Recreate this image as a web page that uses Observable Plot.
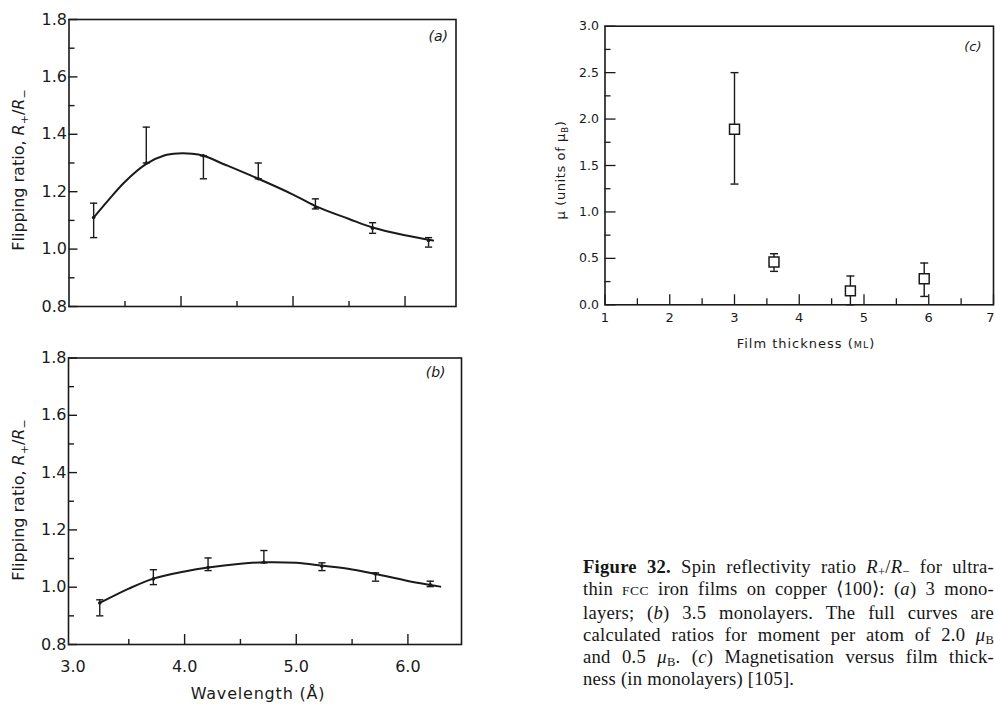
<!DOCTYPE html>
<html>
<head>
<meta charset="utf-8">
<script src="https://cdn.jsdelivr.net/npm/d3@7"></script>
<script src="https://cdn.jsdelivr.net/npm/@observablehq/plot@0.6"></script>
<style>
  html, body { margin: 0; padding: 0; background: #fff; }
  body { width: 995px; height: 704px; overflow: hidden; position: relative; }
  .panel { position: absolute; }
  .panel svg { overflow: visible; }
  .caption {
    position: absolute; left: 583px; top: 556px; width: 411px;
    font-family: "Liberation Serif", "Times New Roman", serif;
    font-size: 18.6px; line-height: 22px; color: #161616; letter-spacing: 0.25px;
  }
  .caption .ln { white-space: nowrap; }
  .caption i { font-style: italic; }
  .caption .sc { font-size: 13.5px; letter-spacing: 0.4px; }
  .caption sub { font-size: 12.5px; vertical-align: -3px; line-height: 0; }
</style>
</head>
<body>
<div id="pa" class="panel" style="left:0;top:0"></div>
<div id="pb" class="panel" style="left:0;top:330px"></div>
<div id="pc" class="panel" style="left:530px;top:0"></div>
<div class="caption">
  <div class="ln"><b>Figure 32.</b> Spin reflectivity ratio <i>R</i><sub>+</sub>/<i>R</i><sub>−</sub> for ultra-</div>
  <div class="ln">thin <span class="sc">FCC</span> iron films on copper ⟨100⟩: (<i>a</i>) 3 mono-</div>
  <div class="ln">layers; (<i>b</i>) 3.5 monolayers. The full curves are</div>
  <div class="ln">calculated ratios for moment per atom of 2.0 <i>μ</i><sub>B</sub></div>
  <div class="ln">and 0.5 <i>μ</i><sub>B</sub>. (<i>c</i>) Magnetisation versus film thick-</div>
  <div class="ln last">ness (in monolayers) [105].</div>
</div>
<script>
// ---- Panel (a): 3 monolayers ----
const wavelengthA = [3.22, 3.69, 4.20, 4.69, 5.20, 5.71, 6.21];
const ratioA      = [1.11, 1.30, 1.325, 1.245, 1.145, 1.073, 1.03];
const ratioALow   = [1.04, 1.30, 1.245, 1.245, 1.14, 1.055, 1.007];
const ratioAHigh  = [1.16, 1.425, 1.325, 1.30, 1.175, 1.092, 1.04];
const curveAX = [3.22, 3.35, 3.5, 3.69, 3.85, 3.97, 4.1, 4.2, 4.4, 4.69, 5.0, 5.2, 5.5, 5.71, 6.0, 6.25];
const curveAY = [1.11, 1.17, 1.235, 1.297, 1.326, 1.333, 1.332, 1.325, 1.293, 1.245, 1.19, 1.15, 1.105, 1.075, 1.048, 1.03];

// ---- Panel (b): 3.5 monolayers ----
const wavelengthB = [3.24, 3.72, 4.21, 4.71, 5.23, 5.71, 6.20];
const ratioB      = [0.945, 1.029, 1.069, 1.087, 1.073, 1.046, 1.008];
const ratioBLow   = [0.90, 1.009, 1.058, 1.085, 1.058, 1.021, 1.002];
const ratioBHigh  = [0.956, 1.061, 1.102, 1.128, 1.085, 1.05, 1.021];
const curveBX = [3.24, 3.5, 3.72, 4.0, 4.21, 4.5, 4.71, 5.0, 5.23, 5.5, 5.71, 6.0, 6.2, 6.29];
const curveBY = [0.945, 0.995, 1.03, 1.055, 1.069, 1.082, 1.087, 1.085, 1.075, 1.062, 1.046, 1.022, 1.008, 1.002];

// ---- Panel (c): moment versus film thickness ----
const thickness  = [3.0, 3.61, 4.79, 5.93];
const moment     = [1.89, 0.46, 0.15, 0.28];
const momentLow  = [1.30, 0.36, 0.0, 0.09];
const momentHigh = [2.50, 0.55, 0.31, 0.45];

// ---- Tick values ----
const ratioMajor = [0.8, 1.0, 1.2, 1.4, 1.6, 1.8];
const ratioMinor = [0.9, 1.1, 1.3, 1.5, 1.7];
const waveMajor  = [3.0, 4.0, 5.0, 6.0];
const waveMinor  = [3.5, 4.5, 5.5];
const thickMajor = [1, 2, 3, 4, 5, 6, 7];
const thickMinor = [1.5, 2.5, 3.5, 4.5, 5.5, 6.5];
const muMajor    = [0, 0.5, 1.0, 1.5, 2.0, 2.5, 3.0];
const muMinor    = [0.25, 0.75, 1.25, 1.75, 2.25, 2.75];

const ink = "#1a1a1a";
const sans = "'DejaVu Sans', 'Liberation Sans', sans-serif";
const fmt1 = d3.format(".1f");

// horizontal cap for error bars, half-width derived from the dot radius
const capSymbol = {
  draw(context, size) {
    const r = Math.sqrt(size / Math.PI);
    context.moveTo(-r, 0);
    context.lineTo(r, 0);
  }
};

function rows(xs, ys, lo, hi) {
  return xs.map((x, i) => ({x, y: ys[i], lo: lo ? lo[i] : null, hi: hi ? hi[i] : null}));
}

function errorMarks(data, capR) {
  return [
    Plot.ruleX(data, {x: "x", y1: "lo", y2: "hi", stroke: ink, strokeWidth: 1.4}),
    Plot.dot(data, {x: "x", y: "lo", r: capR, symbol: capSymbol, fill: "none", stroke: ink, strokeWidth: 1.4}),
    Plot.dot(data, {x: "x", y: "hi", r: capR, symbol: capSymbol, fill: "none", stroke: ink, strokeWidth: 1.4})
  ];
}

function ratioPanel({points, curve, xDomain, height, margins, tag, tagDx, tagDy, showX}) {
  return Plot.plot({
    width: 470, height,
    ...margins,
    x: {domain: xDomain},
    y: {domain: [0.8, 1.8]},
    style: {fontFamily: sans, color: ink, background: "transparent", overflow: "visible"},
    marks: [
      Plot.axisY(ratioMajor, {anchor: "left", tickSize: -9, fill: "none", label: null, stroke: ink, strokeWidth: 1.4}),
      Plot.axisY(ratioMinor, {anchor: "left", tickSize: -6, fill: "none", label: null, stroke: ink, strokeWidth: 1.4}),
      Plot.axisY(ratioMajor, {anchor: "left", tickSize: 0, tickPadding: 2, tickFormat: fmt1, label: null, fontSize: 16, letterSpacing: "1.5px"}),
      Plot.axisX(waveMajor.slice(1), {anchor: "bottom", tickSize: -10, fill: "none", label: null, stroke: ink, strokeWidth: 1.4}),
      Plot.axisX(waveMinor, {anchor: "bottom", tickSize: -5, fill: "none", label: null, stroke: ink, strokeWidth: 1.4}),
      showX ? Plot.axisX(waveMajor, {anchor: "bottom", tickSize: 0, tickPadding: 16, tickFormat: fmt1, label: null, fontSize: 16, letterSpacing: "1.5px"}) : null,
      Plot.frame({stroke: ink, strokeWidth: 1.6}),
      Plot.line(curve, {x: "x", y: "y", curve: "catmull-rom", stroke: ink, strokeWidth: 2}),
      ...errorMarks(points, 3.6),
      Plot.dot(points, {x: "x", y: "y", r: 1.8, fill: ink}),
      Plot.text([tag], {frameAnchor: "top-right", lineAnchor: "top", dx: tagDx, dy: tagDy, fontSize: 14, fontStyle: "italic", fill: ink, letterSpacing: "1px"})
    ]
  });
}

// rotated y-axis title with italic R and +/− subscripts
function ratioTitle(svg, cx, cy) {
  const t = d3.select(svg).append("text")
    .attr("transform", `translate(${cx},${cy}) rotate(-90)`)
    .attr("text-anchor", "middle")
    .attr("dy", "0.35em")
    .attr("font-family", sans)
    .attr("font-size", 16)
    .attr("fill", ink);
  t.append("tspan").text("Flipping ratio, ");
  t.append("tspan").attr("font-style", "italic").text("R");
  t.append("tspan").attr("font-size", 11).attr("dy", 4).text("+");
  t.append("tspan").attr("dy", -4).text("/");
  t.append("tspan").attr("font-style", "italic").text("R");
  t.append("tspan").attr("font-size", 11).attr("dy", 4).text("−");
}

// (a)
const svgA = ratioPanel({
  points: rows(wavelengthA, ratioA, ratioALow, ratioAHigh),
  curve: rows(curveAX, curveAY),
  xDomain: [3.0, 6.455],
  height: 330,
  margins: {marginLeft: 68.5, marginRight: 14.5, marginTop: 19, marginBottom: 24},
  tag: "(a)", tagDx: -8, tagDy: 12, showX: false
});
ratioTitle(svgA, 18, 170);
document.getElementById("pa").appendChild(svgA);

// (b)
const svgB = ratioPanel({
  points: rows(wavelengthB, ratioB, ratioBLow, ratioBHigh),
  curve: rows(curveBX, curveBY),
  xDomain: [2.96, 6.48],
  height: 374,
  margins: {marginLeft: 68, marginRight: 9, marginTop: 27.5, marginBottom: 60},
  tag: "(b)", tagDx: -16, tagDy: 9, showX: true
});
ratioTitle(svgB, 18, 170);
d3.select(svgB).append("text")
  .attr("x", 258).attr("y", 369)
  .attr("text-anchor", "middle")
  .attr("font-family", sans).attr("font-size", 16).attr("letter-spacing", "0.8px")
  .attr("fill", ink)
  .text("Wavelength (Å)");
document.getElementById("pb").appendChild(svgB);

// (c)
const dataC = rows(thickness, moment, momentLow, momentHigh);
const svgC = Plot.plot({
  width: 465, height: 360,
  marginLeft: 74.5, marginRight: 2, marginTop: 25.7, marginBottom: 55.7,
  x: {domain: [1, 7]},
  y: {domain: [0, 3]},
  style: {fontFamily: sans, color: ink, background: "transparent", overflow: "visible"},
  marks: [
    Plot.axisY(muMajor, {anchor: "left", tickSize: -11, fill: "none", label: null, stroke: ink, strokeWidth: 1.3}),
    Plot.axisY(muMinor, {anchor: "left", tickSize: -6, fill: "none", label: null, stroke: ink, strokeWidth: 1.3}),
    Plot.axisY(muMajor, {anchor: "left", tickSize: 0, tickPadding: 6, tickFormat: fmt1, label: null, fontSize: 12.5, letterSpacing: "1.5px"}),
    Plot.axisX(thickMajor, {anchor: "bottom", tickSize: -10, fill: "none", label: null, stroke: ink, strokeWidth: 1.3}),
    Plot.axisX(thickMinor, {anchor: "bottom", tickSize: -6, fill: "none", label: null, stroke: ink, strokeWidth: 1.3}),
    Plot.axisX(thickMajor.slice(0, -1), {anchor: "bottom", tickSize: 0, tickPadding: 8, tickFormat: d3.format("d"), label: null, fontSize: 13}),
    // the last label sits against the page edge, so nudge it inward
    Plot.axisX(thickMajor.slice(-1), {anchor: "bottom", tickSize: 0, tickPadding: 8, tickFormat: d3.format("d"), label: null, fontSize: 13, dx: -3}),
    Plot.frame({stroke: ink, strokeWidth: 1.6}),
    ...errorMarks(dataC, 4),
    Plot.dot(dataC, {x: "x", y: "y", r: 5.6, symbol: "square", fill: "white", stroke: ink, strokeWidth: 1.5}),
    Plot.text(["(c)"], {frameAnchor: "top-right", lineAnchor: "top", dx: -12, dy: 16, fontSize: 13, fontStyle: "italic", fill: ink, letterSpacing: "1px"})
  ]
});
{
  const t = d3.select(svgC).append("text")
    .attr("transform", "translate(30,170) rotate(-90)")
    .attr("text-anchor", "middle").attr("dy", "0.35em")
    .attr("font-family", sans).attr("font-size", 13).attr("letter-spacing", "0.6px")
    .attr("fill", ink);
  t.append("tspan").text("μ (units of μ");
  t.append("tspan").attr("font-size", 9).attr("dy", 3).text("B");
  t.append("tspan").attr("dy", -3).text(")");

  const f = d3.select(svgC).append("text")
    .attr("x", 276).attr("y", 348)
    .attr("text-anchor", "middle")
    .attr("font-family", sans).attr("font-size", 13).attr("letter-spacing", "1px")
    .attr("fill", ink);
  f.append("tspan").text("Film thickness (");
  f.append("tspan").attr("font-size", 9.5).text("ML");
  f.append("tspan").text(")");
}
document.getElementById("pc").appendChild(svgC);

// justify each caption line to the column width by spreading its word gaps
{
  const box = document.querySelector(".caption");
  const target = box.clientWidth;
  for (const ln of box.querySelectorAll(".ln")) {
    if (ln.classList.contains("last")) continue;
    const probe = document.createElement("span");
    while (ln.firstChild) probe.appendChild(ln.firstChild);
    ln.appendChild(probe);
    const natural = probe.getBoundingClientRect().width;
    const gaps = (probe.textContent.trim().match(/ +/g) || []).length;
    if (gaps > 0) ln.style.wordSpacing = ((target - natural) / gaps) + "px";
  }
}
</script>
</body>
</html>
